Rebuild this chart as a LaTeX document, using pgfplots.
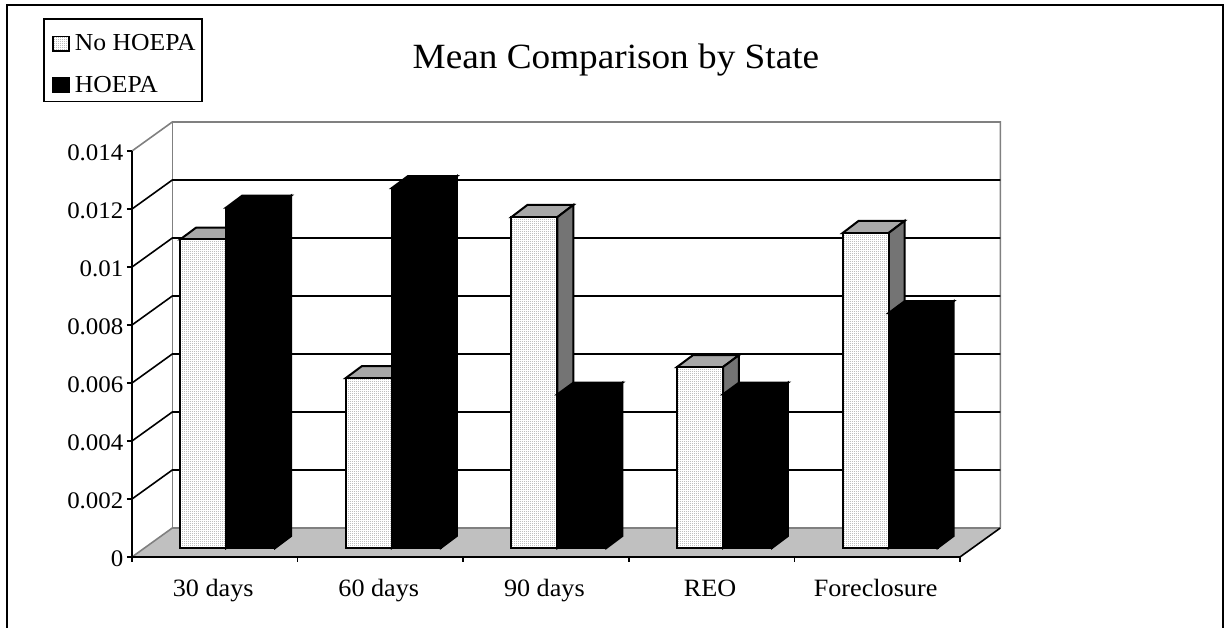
\documentclass[border=0pt]{standalone}
\usepackage{fontspec}
\setmainfont[FakeStretch=1.05]{Liberation Serif}
\usepackage{pgfplots}
\usepackage{pgfplotstable}
\pgfplotsset{compat=1.18}
\usetikzlibrary{patterns}

% one dark dot in every 2x2 pixels, like the halftone of the light bars
\pgfdeclarepatternformonly{halftone}{\pgfpointorigin}{\pgfqpoint{1.5pt}{1.5pt}}{\pgfqpoint{1.5pt}{1.5pt}}{%
  \pgfpathrectangle{\pgfpointorigin}{\pgfqpoint{0.75pt}{0.75pt}}\pgfusepath{fill}}

\definecolor{wallgray}{HTML}{808080}
\definecolor{floorgray}{HTML}{C0C0C0}
\definecolor{dotgray}{HTML}{6A6A6A}
\definecolor{lighttop}{HTML}{A8A8A8}
\definecolor{lightside}{HTML}{747474}

\pgfplotstableread{
cat no      hoepa
0   0.01064 0.01174
1   0.00586 0.01241
2   0.01141 0.00530
3   0.00624 0.00530
4   0.01086 0.00810
}\means

% top and side face of one bar; a category is 165.6px wide, 0.001 is 29px high
\newcommand{\depthfaces}[6]{%
  \pgfplotstablegetelem{#1}{#2}\of\means
  \pgfmathsetmacro\xl{#1+0.5+#3}%
  \pgfmathsetmacro\xr{#1+0.5+#4}%
  \pgfmathsetmacro\xlb{\xl+0.0966}%
  \pgfmathsetmacro\xrb{\xr+0.0966}%
  \pgfmathsetmacro\yf{\pgfplotsretval}%
  \pgfmathsetmacro\yb{\pgfplotsretval+0.000414}%
  \edef\temp{\noexpand\addplot[bar plane,edge,fill=#5,forget plot]
    coordinates {(\xl,\yf) (\xlb,\yb) (\xrb,\yb) (\xr,\yf)} --cycle;
    \noexpand\addplot[bar plane,edge,fill=#6,forget plot]
    coordinates {(\xr,0) (\xrb,0.000414) (\xrb,\yb) (\xr,\yf)} --cycle;}%
  \temp
}

\begin{document}
\begin{tikzpicture}
\useasboundingbox (0,0) rectangle (924pt,471pt);
\begin{axis}[
  at={(99pt,53.25pt)}, anchor=south west,
  scale only axis, width=621pt, height=304.5pt,
  clip=false, axis on top,
  xmin=0, xmax=5, ymin=0, ymax=0.014,
  axis lines*=left,
  axis line style={-, black, line width=1.4pt},
  xtick={0,1,2,3,4,5},
  x tick label as interval,
  xticklabels={30 days,60 days,90 days,REO,Foreclosure},
  ytick={0,0.002,0.004,0.006,0.008,0.01,0.012,0.014},
  scaled y ticks=false,
  /pgf/number format/fixed,
  /pgf/number format/precision=3,
  /pgf/number format/assume math mode=true,
  tick align=outside,
  major tick length=3.75pt,
  tick style={black, line width=1.2pt},
  yticklabel style={font=\fontsize{17.8pt}{20pt}\selectfont, xshift=0.8pt, yshift=-1.5pt},
  xticklabel style={font=\fontsize{18.7pt}{20pt}\selectfont, text height=13pt, text depth=4pt, xshift=-1.2pt, yshift=-9.5pt},
  title={Mean Comparison by State},
  title style={at={(0.5845,1.2044)}, anchor=center, font=\fontsize{26.6pt}{30pt}\selectfont},
  legend style={at={(-0.1075,1.3276)}, anchor=north west, draw=black, line width=1.2pt,
    font=\fontsize{18.3pt}{22pt}\selectfont, cells={anchor=west},
    row sep=7pt, inner xsep=2.75pt, inner ysep=3.5pt},
  % the discarded path sets the room round a swatch: above, to the left and before the text
  legend image code/.code={\draw[#1] (0pt,-5.5pt) rectangle (11.8pt,5.5pt);
    \pgfpathrectangle{\pgfqpoint{-4.3pt}{0pt}}{\pgfqpoint{18.6pt}{15.25pt}}\pgfusepath{discard}},
  bar plane/.style={xshift=8.55pt, yshift=6.75pt},
  edge/.style={draw=black, line width=1.5pt},
  halftone fill/.style={preaction={fill=white}, pattern=halftone, pattern color=dotgray},
]
\addlegendimage{draw=black, line width=1.2pt, halftone fill}
\addlegendentry{No HOEPA}
\addlegendimage{draw=black, line width=1.2pt, fill=black}
\addlegendentry{HOEPA}

% floor and back wall
\addplot[draw=none, fill=floorgray, forget plot]
  coordinates {(0,0) (0.2434,0.001) (5.2434,0.001) (5,0)} --cycle;
\addplot[wallgray, line width=1.2pt, forget plot]
  coordinates {(0,0) (0.2434,0.001) (5.2434,0.001)};
\addplot[wallgray, line width=1.2pt, forget plot]
  coordinates {(0,0.014) (0.2434,0.015) (5.2434,0.015) (5.2434,0.001)};
\addplot[wallgray, line width=1.2pt, forget plot]
  coordinates {(0.2434,0.001) (0.2434,0.015)};
\addplot[black, line width=1.2pt, forget plot]
  coordinates {(5,0) (5.2434,0.001)};

% gridlines, along the side wall and then the back wall
\addplot[black, line width=1.2pt, forget plot] coordinates {(0,0.002) (0.2434,0.003) (5.2434,0.003)};
\addplot[black, line width=1.2pt, forget plot] coordinates {(0,0.004) (0.2434,0.005) (5.2434,0.005)};
\addplot[black, line width=1.2pt, forget plot] coordinates {(0,0.006) (0.2434,0.007) (5.2434,0.007)};
\addplot[black, line width=1.2pt, forget plot] coordinates {(0,0.008) (0.2434,0.009) (5.2434,0.009)};
\addplot[black, line width=1.2pt, forget plot] coordinates {(0,0.010) (0.2434,0.011) (5.2434,0.011)};
\addplot[black, line width=1.2pt, forget plot] coordinates {(0,0.012) (0.2434,0.013) (5.2434,0.013)};

% light bars
\pgfplotsinvokeforeach{0,1,2,3,4}{\depthfaces{#1}{no}{-0.2778}{0}{lighttop}{lightside}}
\addplot[ybar, bar plane, edge, halftone fill, bar width=34.5pt, bar shift=-17.25pt, forget plot]
  table[x expr=\thisrow{cat}+0.5, y=no] {\means};

% black bars
\pgfplotsinvokeforeach{0,1,2,3,4}{\depthfaces{#1}{hoepa}{0}{0.2959}{black}{black}}
\addplot[ybar, bar plane, edge, fill=black, bar width=36.75pt, bar shift=18.375pt, forget plot]
  table[x expr=\thisrow{cat}+0.5, y=hoepa] {\means};
\end{axis}
% chart frame, open at the foot of the page
\draw[black, line width=1.5pt] (5.25pt,0pt) -- (5.25pt,467.6pt) -- (917.6pt,467.6pt) -- (917.6pt,0pt);
\end{tikzpicture}
\end{document}
